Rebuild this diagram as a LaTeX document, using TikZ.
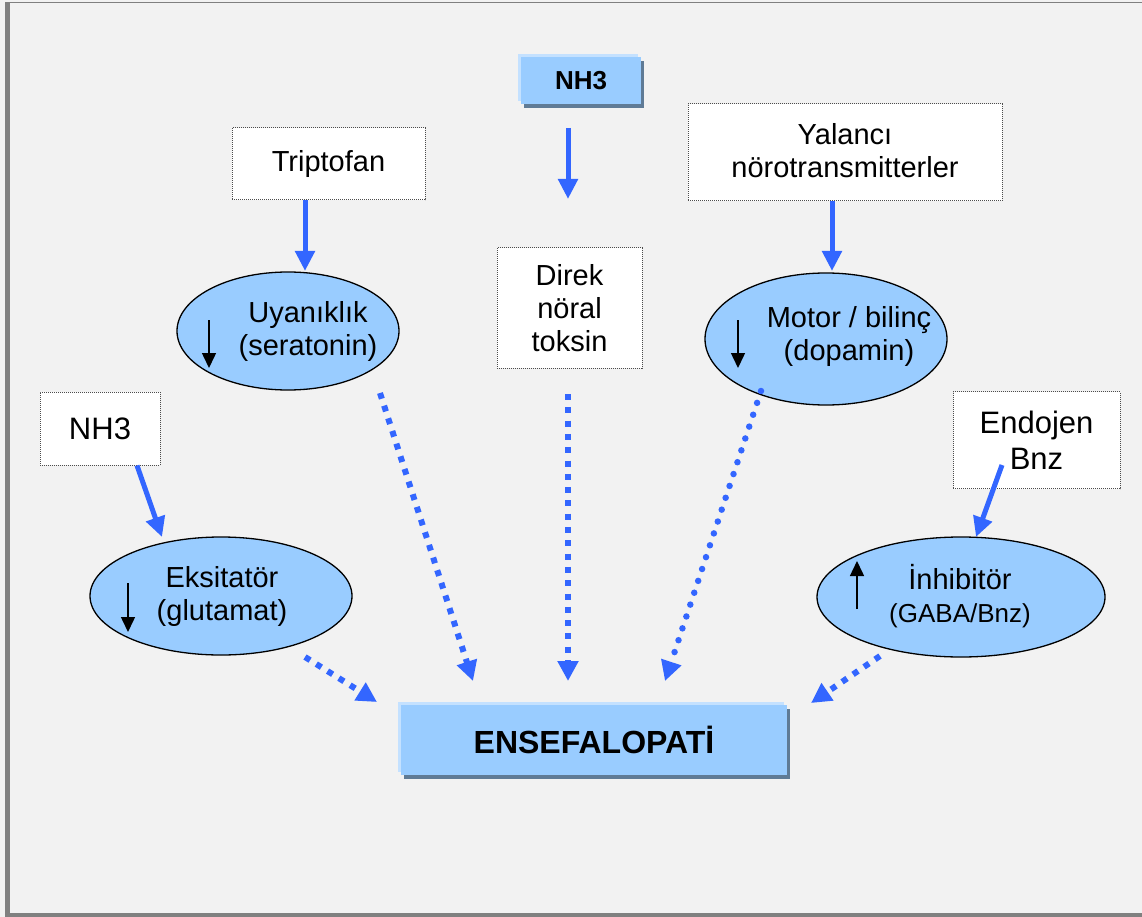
\documentclass[tikz,border=0pt]{standalone}
\usepackage{fontspec}
\setmainfont{Liberation Sans}
\usetikzlibrary{arrows.meta,shadows,shapes.geometric}
\definecolor{bg}{HTML}{F2F2F2}
\definecolor{framec}{HTML}{808080}
\definecolor{lb}{HTML}{99CCFF}
\definecolor{lbhi}{HTML}{C4E1FF}
\definecolor{lbsh}{HTML}{5F7B96}
\definecolor{arrblue}{HTML}{3366FF}
\begin{document}
\begin{tikzpicture}[x=1pt,y=-1pt,
 txt/.style={font=\fontsize{29}{33}\selectfont, align=center, inner sep=0pt},
 bigtxt/.style={font=\fontsize{31}{36}\selectfont, align=center, inner sep=0pt},
 dbox/.style={draw=black!70, fill=white, line width=1pt, dash pattern=on 1pt off 1pt, inner sep=0pt},
 bbox/.style={fill=lb, inner sep=0pt, general shadow={fill=lbhi, shadow xshift=-3pt, shadow yshift=3pt}, general shadow={fill=lbsh, shadow xshift=3pt, shadow yshift=-4pt}},
 ell/.style={ellipse, draw=black, line width=1.3pt, fill=lb, inner sep=0pt},
 sarr/.style={draw=arrblue, line width=5pt, -{Triangle[length=20pt,width=19pt]}},
 qarr/.style={draw=arrblue, line width=6pt, dash pattern=on 6pt off 7.3pt, -{Triangle[length=20pt,width=20pt]}},
 rarr/.style={draw=arrblue, line width=6.5pt, line cap=round, dash pattern=on 0pt off 12.5pt, -{Triangle[length=20pt,width=20pt]}},
 karr/.style={draw=black, line width=1.5pt, -{Triangle[length=15pt,width=14pt]}},
]
\useasboundingbox (0,0) rectangle (1142,917);
\fill[bg] (0,0) rectangle (1142,917);
\fill[framec] (5,1.7) rectangle (10,917);
\draw[framec, line width=1.4pt] (5,2.4) -- (1142,2.4);
\fill[framec] (5,913) rectangle (1142,917);

% top NH3
\node[bbox, minimum width=120pt, minimum height=47pt, font=\bfseries\fontsize{26}{30}\selectfont] (nhtop) at (581,80.5) {NH3};
% white dotted boxes
\node[dbox, minimum width=193pt, minimum height=72pt] (trip) at (328.5,164) {};
\node[txt] (tripT) at (328.5,164) {Triptofan};
\node[dbox, minimum width=314pt, minimum height=97pt] (yal) at (845,152.5) {};
\node[txt] (yalT) at (845,151) {Yalancı\\nörotransmitterler};
\node[dbox, minimum width=145pt, minimum height=120pt] (dir) at (569.5,308) {};
\node[txt] (dirT) at (569.5,308) {Direk\\nöral\\toksin};
\node[dbox, minimum width=120pt, minimum height=73pt] (nhl) at (100,428.5) {};
\node[bigtxt] (nhlT) at (100,428.5) {NH3};
\node[dbox, minimum width=167pt, minimum height=97pt] (endo) at (1036.5,440) {};
\node[bigtxt] (endoT) at (1036.5,440) {Endojen\\Bnz};

% ellipses
\node[ell, minimum width=222pt, minimum height=118pt] (uya) at (288,331) {};
\node[txt] (uyaT) at (308,331) {Uyanıklık\\(seratonin)};
\node[ell, minimum width=242pt, minimum height=132pt] (mot) at (826,339) {};
\node[txt] (motT) at (849,337) {Motor / bilinç\\(dopamin)};
\node[ell, minimum width=262pt, minimum height=118pt] (eks) at (221,596) {};
\node[txt] (eksT) at (222,596) {Eksitatör\\(glutamat)};
\node[ell, minimum width=288pt, minimum height=120pt] (inh) at (961,597) {};
\node[txt] (inhT) at (960,596) {İnhibitör\\{\fontsize{26}{30}\selectfont(GABA/Bnz)}};

% ENSEFALOPATI
\node[bbox, minimum width=386pt, minimum height=70pt, font=\bfseries\fontsize{32}{36}\selectfont] (ens) at (594,740) {ENSEFALOPATİ};

% small arrows inside ellipses
\coordinate (u1) at (209,320); \coordinate (u2) at (209,368);
\draw[karr] (u1) -- (u2);
\coordinate (m1) at (738,320); \coordinate (m2) at (738,368);
\draw[karr] (m1) -- (m2);
\coordinate (e1) at (128,583); \coordinate (e2) at (128,632);
\draw[karr] (e1) -- (e2);
\coordinate (i1) at (857,609); \coordinate (i2) at (857,561);
\draw[karr] (i1) -- (i2);

% solid blue arrows
\coordinate (a1s) at (568,128); \coordinate (a1e) at (568,199);
\draw[sarr] (a1s) -- (a1e);
\coordinate (tripE) at (305,271);
\draw[sarr] (trip.south) ++(-23.5,0) -- (tripE);
\coordinate (yalE) at (832,271);
\draw[sarr] (yal.south) ++(-13,0) -- (yalE);
\coordinate (nhlE) at (162,537);
\draw[sarr] (nhl.south) ++(37,0) -- (nhlE);
\coordinate (endoE) at (976,537);
\draw[sarr] (endo.south) ++(-34.5,-24) -- (endoE);

% dotted arrows to ENSEFALOPATI
\coordinate (d1s) at (380,393); \coordinate (d1e) at (473,681);
\draw[qarr] (d1s) -- (d1e);
\coordinate (d2s) at (568,394); \coordinate (d2e) at (568,681);
\draw[qarr] (d2s) -- (d2e);
\coordinate (d3s) at (761,391); \coordinate (d3e) at (665,681);
\draw[rarr] (d3s) -- (d3e);
\coordinate (d4s) at (305,657); \coordinate (d4e) at (377,702);
\draw[qarr] (d4s) -- (d4e);
\coordinate (d5s) at (880,656); \coordinate (d5e) at (811,703);
\draw[qarr] (d5s) -- (d5e);
\end{tikzpicture}
\end{document}
